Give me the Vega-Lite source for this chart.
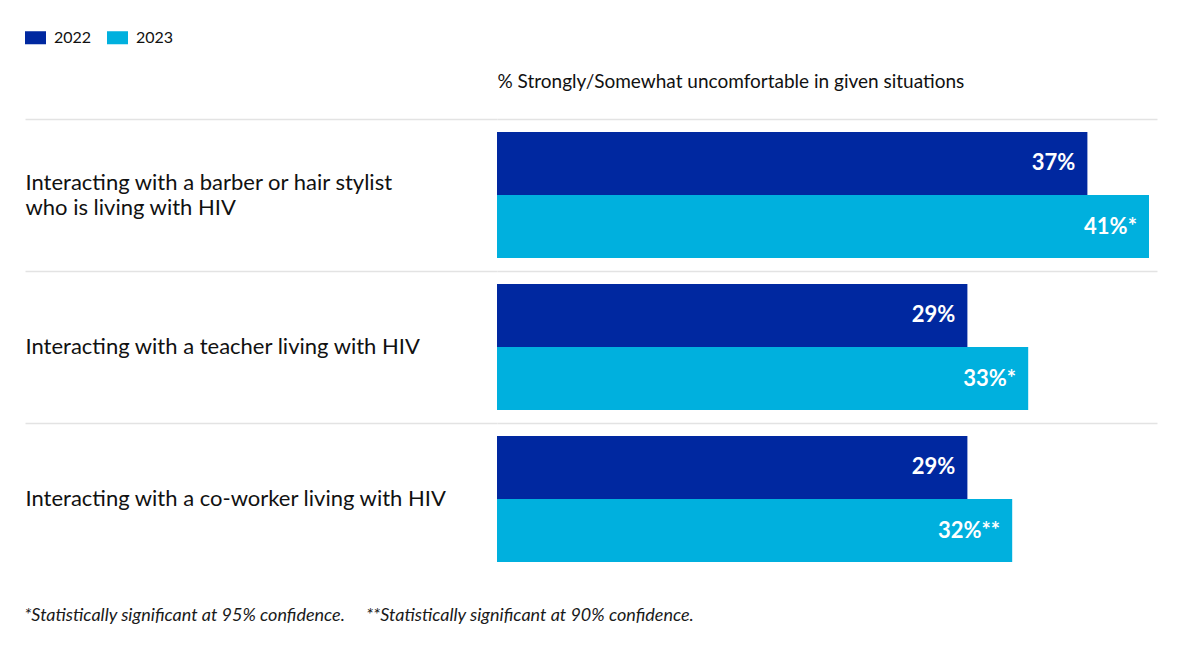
{
  "$schema": "https://vega.github.io/schema/vega-lite/v6.json",
  "width": 660,
  "height": 456,
  "autosize": {"type": "none"},
  "padding": {"left": 497, "top": 119, "right": 43, "bottom": 81},
  "background": "white",
  "config": {
    "font": "Lato",
    "view": {"stroke": null}
  },
  "title": {
    "text": "*Statistically significant at 95% confidence.\u00a0\u00a0\u00a0\u00a0 **Statistically significant at 90% confidence.",
    "orient": "bottom",
    "anchor": "start",
    "frame": "bounds",
    "font": "Lato",
    "fontSize": 18,
    "fontStyle": "italic",
    "fontWeight": "normal",
    "color": "#1a1a1a",
    "baseline": "alphabetic",
    "offset": 46
  },
  "data": {
    "values": [
      {"situation": "Interacting with a barber or hair stylist who is living with HIV", "year": "2022", "value": 36.9, "label": "37%"},
      {"situation": "Interacting with a barber or hair stylist who is living with HIV", "year": "2023", "value": 40.75, "label": "41%*"},
      {"situation": "Interacting with a teacher living with HIV", "year": "2022", "value": 29.4, "label": "29%"},
      {"situation": "Interacting with a teacher living with HIV", "year": "2023", "value": 33.2, "label": "33%*"},
      {"situation": "Interacting with a co-worker living with HIV", "year": "2022", "value": 29.4, "label": "29%"},
      {"situation": "Interacting with a co-worker living with HIV", "year": "2023", "value": 32.2, "label": "32%**"}
    ]
  },
  "encoding": {
    "y": {
      "field": "situation",
      "type": "nominal",
      "sort": null,
      "scale": {"paddingInner": 0, "paddingOuter": 0},
      "axis": {
        "title": null,
        "domain": false,
        "grid": true,
        "gridColor": "#e3e3e3",
        "gridWidth": 1.5,
        "ticks": true,
        "tickSize": 472,
        "tickColor": "#e3e3e3",
        "tickWidth": 1.5,
        "bandPosition": 0,
        "labelAlign": "left",
        "labelBaseline": "middle",
        "labelPadding": 0,
        "labelLimit": 0,
        "labelFontSize": 22,
        "labelColor": "#111111",
        "labelLineHeight": 25,
        "labelOffset": {
          "condition": {"test": "datum.value == 'Interacting with a barber or hair stylist who is living with HIV'", "value": -12},
          "value": 0
        },
        "labelExpr": "datum.value == 'Interacting with a barber or hair stylist who is living with HIV' ? ['Interacting with a barber or hair stylist', 'who is living with HIV'] : datum.label"
      }
    },
    "yOffset": {
      "field": "year",
      "type": "nominal",
      "scale": {"paddingInner": 0, "paddingOuter": 0.206}
    },
    "x": {
      "field": "value",
      "type": "quantitative",
      "scale": {"domain": [0, 41.25], "nice": false, "zero": true},
      "axis": {
        "orient": "top",
        "title": "% Strongly/Somewhat uncomfortable in given situations",
        "titleFontSize": 19,
        "titleFontWeight": "normal",
        "titleColor": "#111111",
        "titleAnchor": "start",
        "titleAlign": "left",
        "titleBaseline": "alphabetic",
        "titlePadding": 32,
        "labels": false,
        "ticks": false,
        "domain": false,
        "grid": false
      }
    }
  },
  "layer": [
    {
      "mark": {"type": "bar", "cornerRadius": 0},
      "encoding": {
        "color": {
          "field": "year",
          "type": "nominal",
          "scale": {"domain": ["2022", "2023"], "range": ["#0028A0", "#00B0DE"]},
          "legend": {
            "title": null,
            "orient": "none",
            "direction": "horizontal",
            "legendX": -472,
            "legendY": -92,
            "symbolType": "M-1,-0.62H1V0.62H-1Z",
            "symbolSize": 441,
            "symbolStrokeWidth": 0,
            "symbolOpacity": 1,
            "labelFontSize": 16,
            "labelColor": "#111111",
            "labelOffset": 8,
            "columnPadding": 15,
            "padding": 0
          }
        }
      }
    },
    {
      "mark": {
        "type": "text",
        "align": "right",
        "baseline": "middle",
        "dx": -12,
        "color": "white",
        "fontSize": 22,
        "fontWeight": "bold",
        "font": "Lato"
      },
      "encoding": {
        "text": {"field": "label", "type": "nominal"}
      }
    }
  ]
}
